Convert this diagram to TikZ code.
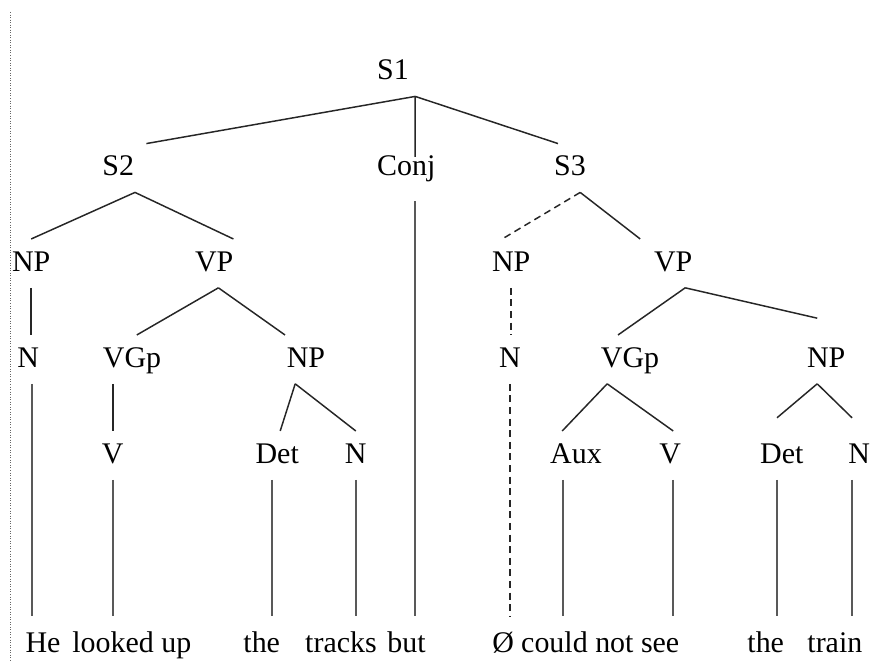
\documentclass[tikz,border=0pt]{standalone}
\usepackage{fontspec}
\setmainfont{Liberation Serif}
\usepackage{tikz}

\begin{document}
\begin{tikzpicture}[font=\fontsize{14.2}{17}\selectfont,
    cat/.style={anchor=base, inner sep=0pt, text height=0.53cm, text depth=0.27cm},
    word/.style={anchor=base west, inner sep=0pt, text height=0.6cm},
    branch/.style={line width=0.7pt, black!85},
    gap/.style={branch, dash pattern=on 3.3pt off 2.2pt},
    stem/.style={line width=0.9pt, black!65}]
  \useasboundingbox (0,0) rectangle (14.5,11);
  % margin rule
  \draw[black!60, line width=0.5pt, dash pattern=on 0.4pt off 0.8pt] (0.17,10.8) -- (0.17,0);

  % Sentence
  \node[cat] (s1) at (6.55,9.67) {S1};
  % Clauses
  \node[cat] (s2)   at (1.97,8.07) {S2};
  \node[cat] (conj) at (6.77,8.07) {Conj};
  \node[cat] (s3)   at (9.50,8.07) {S3};
  % Phrases
  \node[cat] (np1) at (0.52,6.48)  {NP};
  \node[cat] (vp1) at (3.57,6.48)  {VP};
  \node[cat] (np3) at (8.52,6.48)  {NP};
  \node[cat] (vp2) at (11.22,6.48) {VP};
  % Heads and groups
  \node[cat] (n1)   at (0.47,4.88)  {N};
  \node[cat] (vgp1) at (2.20,4.88)  {VGp};
  \node[cat] (np2)  at (5.10,4.88)  {NP};
  \node[cat] (n3)   at (8.50,4.88)  {N};
  \node[cat] (vgp2) at (10.50,4.88) {VGp};
  \node[cat] (np4)  at (13.77,4.88) {NP};
  % Pre-terminals
  \node[cat] (v1)   at (1.88,3.28)  {V};
  \node[cat] (det1) at (4.62,3.28)  {Det};
  \node[cat] (n2)   at (5.93,3.28)  {N};
  \node[cat] (aux)  at (9.60,3.28)  {Aux};
  \node[cat] (v2)   at (11.17,3.28) {V};
  \node[cat] (det2) at (13.03,3.28) {Det};
  \node[cat] (n4)   at (14.32,3.28) {N};
  % Words
  \node[word] (he)     at (0.42,0.12)  {He};
  \node[word] (looked) at (1.20,0.12)  {looked up};
  \node[word] (the1)   at (4.05,0.12)  {the};
  \node[word] (tracks) at (5.08,0.12)  {tracks};
  \node[word] (but)    at (6.45,0.12)  {but};
  \node[word] (zero)   at (8.20,0.12)  {Ø};
  \node[word] (could)  at (8.68,0.12)  {could not see};
  \node[word] (the2)   at (12.45,0.12) {the};
  \node[word] (train)  at (13.45,0.12) {train};

  % S1
  \draw[branch] ([xshift=0.37cm]s1.south) -- ([xshift=0.47cm]s2.north);
  \draw[branch] ([xshift=0.37cm]s1.south) -- ([xshift=0.15cm,yshift=-0.22cm]conj.north);
  \draw[branch] ([xshift=0.37cm]s1.south) -- ([xshift=-0.2cm]s3.north);
  % S2 and S3
  \draw[branch] ([xshift=0.28cm]s2.south) -- (np1.north);
  \draw[branch] ([xshift=0.28cm]s2.south) -- ([xshift=0.32cm]vp1.north);
  \draw[gap]    ([xshift=0.17cm]s3.south) -- ([xshift=-0.15cm]np3.north);
  \draw[branch] ([xshift=0.17cm]s3.south) -- ([xshift=-0.55cm]vp2.north);
  % VPs
  \draw[branch] ([xshift=0.07cm]vp1.south) -- ([xshift=0.08cm]vgp1.north);
  \draw[branch] ([xshift=0.07cm]vp1.south) -- ([xshift=-0.35cm]np2.north);
  \draw[branch] ([xshift=0.2cm]vp2.south) -- ([xshift=-0.2cm]vgp2.north);
  \draw[branch] ([xshift=0.2cm]vp2.south) -- ([xshift=-0.15cm,yshift=0.28cm]np4.north);
  % unary branches
  \draw[branch] (np1.south) -- (np1.south |- n1.north);
  \draw[gap]    (np3.south) -- (np3.south |- n3.north);
  \draw[branch] (v1.north |- vgp1.south) -- (v1.north);
  % NPs and VGp
  \draw[branch] ([xshift=-0.18cm]np2.south) -- ([xshift=0.05cm]det1.north);
  \draw[branch] ([xshift=-0.18cm]np2.south) -- (n2.north);
  \draw[branch] ([xshift=-0.38cm]vgp2.south) -- ([xshift=-0.23cm]aux.north);
  \draw[branch] ([xshift=-0.38cm]vgp2.south) -- ([xshift=0.05cm]v2.north);
  \draw[branch] ([xshift=-0.15cm]np4.south) -- ([xshift=-0.08cm,yshift=0.22cm]det2.north);
  \draw[branch] ([xshift=-0.15cm]np4.south) -- ([xshift=-0.12cm,yshift=0.22cm]n4.north);

  % stems down to the words
  \draw[stem] ([xshift=0.07cm]n1.south) -- ([xshift=0.07cm]n1.south |- he.north);
  \draw[stem] (v1.south) -- (v1.south |- looked.north);
  \draw[stem] ([xshift=-0.08cm]det1.south) -- ([xshift=-0.08cm]det1.south |- the1.north);
  \draw[stem] (n2.south) -- (n2.south |- tracks.north);
  \draw[stem] ([xshift=0.15cm,yshift=-0.15cm]conj.south) -- ([xshift=0.15cm]conj.south |- but.north);
  \draw[gap]  (n3.south) -- (n3.south |- zero.north);
  \draw[stem] ([xshift=-0.22cm]aux.south) -- ([xshift=-0.22cm]aux.south |- could.north);
  \draw[stem] ([xshift=0.05cm]v2.south) -- ([xshift=0.05cm]v2.south |- could.north);
  \draw[stem] ([xshift=-0.08cm]det2.south) -- ([xshift=-0.08cm]det2.south |- the2.north);
  \draw[stem] ([xshift=-0.12cm]n4.south) -- ([xshift=-0.12cm]n4.south |- train.north);
\end{tikzpicture}
\end{document}
